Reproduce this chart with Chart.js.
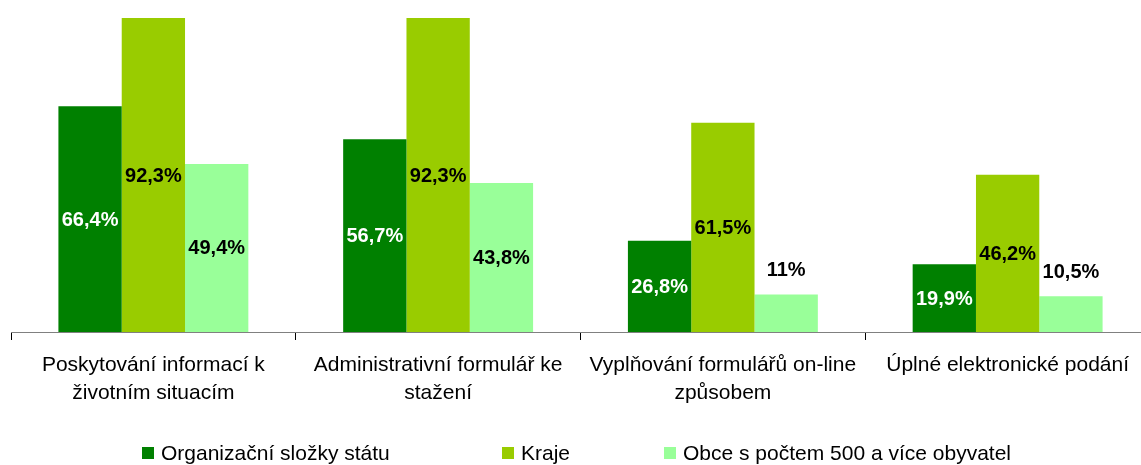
<!DOCTYPE html>
<html><head><meta charset="utf-8">
<script src="https://cdn.jsdelivr.net/npm/chart.js@4/dist/chart.umd.min.js"></script>
<style>html,body{margin:0;padding:0;overflow:hidden;background:#fff}#wrap{width:1160px;height:465px;position:relative}</style>
</head><body><div id="wrap"><canvas id="c" width="1160" height="465"></canvas></div>
<script>
const categories = [["Poskytování informací k","životním situacím"],["Administrativní formulář ke","stažení"],["Vyplňování formulářů on-line","způsobem"],["Úplné elektronické podání"]];
const seriesNames = ["Organizační složky státu","Kraje","Obce s počtem 500 a více obyvatel"];
const organizacniSlozky = [66.4,56.7,26.8,19.9];
const kraje = [92.3,92.3,61.5,46.2];
const obce = [49.4,43.8,11,10.5];

const colors = ['#008000','#99CC00','#99FF99'];
const labelColors = ['#ffffff','#000000','#000000'];
const FONT = 'Arial, "Liberation Sans", sans-serif';

const valueLabels = {
  id:'valueLabels',
  afterDatasetsDraw(chart){
    const ctx = chart.ctx;
    ctx.save();
    ctx.font = 'bold 20px ' + FONT;
    ctx.textAlign = 'center';
    ctx.textBaseline = 'middle';
    chart.data.datasets.forEach((ds, i) => {
      const meta = chart.getDatasetMeta(i);
      meta.data.forEach((bar, j) => {
        const v = ds.data[j];
        const txt = String(v).replace('.', ',') + '%';
        let y = (bar.y + bar.base) / 2;
        if (v < 15) y = bar.y - 25;
        ctx.fillStyle = (v < 15) ? '#000000' : labelColors[i];
        ctx.fillText(txt, bar.x, y + 1);
      });
    });
    ctx.restore();
  }
};

const customLegend = {
  id:'customLegend',
  afterDraw(chart){
    const ctx = chart.ctx;
    const xs = [142, 502, 664];
    ctx.save();
    ctx.font = '21px ' + FONT;
    ctx.textAlign = 'left';
    ctx.textBaseline = 'middle';
    chart.data.datasets.forEach((ds, i) => {
      ctx.fillStyle = ds.backgroundColor;
      ctx.fillRect(xs[i], 447, 12, 12);
      ctx.fillStyle = '#000';
      ctx.fillText(ds.label, xs[i] + 19, 454);
    });
    ctx.restore();
  }
};

new Chart(document.getElementById('c'), {
  type:'bar',
  data:{
    labels: categories,
    datasets:[
      {label:seriesNames[0], data:organizacniSlozky, backgroundColor:colors[0]},
      {label:seriesNames[1], data:kraje, backgroundColor:colors[1]},
      {label:seriesNames[2], data:obce, backgroundColor:colors[2]}
    ]
  },
  options:{
    responsive:false,
    animation:false,
    devicePixelRatio:1,
    layout:{padding:{left:11,right:10,top:0,bottom:0}},
    categoryPercentage:0.667,
    barPercentage:1,
    plugins:{legend:{display:false}, tooltip:{enabled:false}},
    scales:{
      y:{display:false, min:0, max:97.6},
      x:{
        grid:{display:true, drawOnChartArea:false, drawTicks:true, tickLength:8, color:'#000', offset:true},
        border:{display:true, color:'#808080', width:1},
        ticks:{color:'#000', font:{family:FONT, size:21, lineHeight:1.3}, padding:12, maxRotation:0, autoSkip:false},
        afterFit(s){ s.height = 133; }
      }
    }
  },
  plugins:[valueLabels, customLegend]
});
</script>
</body></html>
